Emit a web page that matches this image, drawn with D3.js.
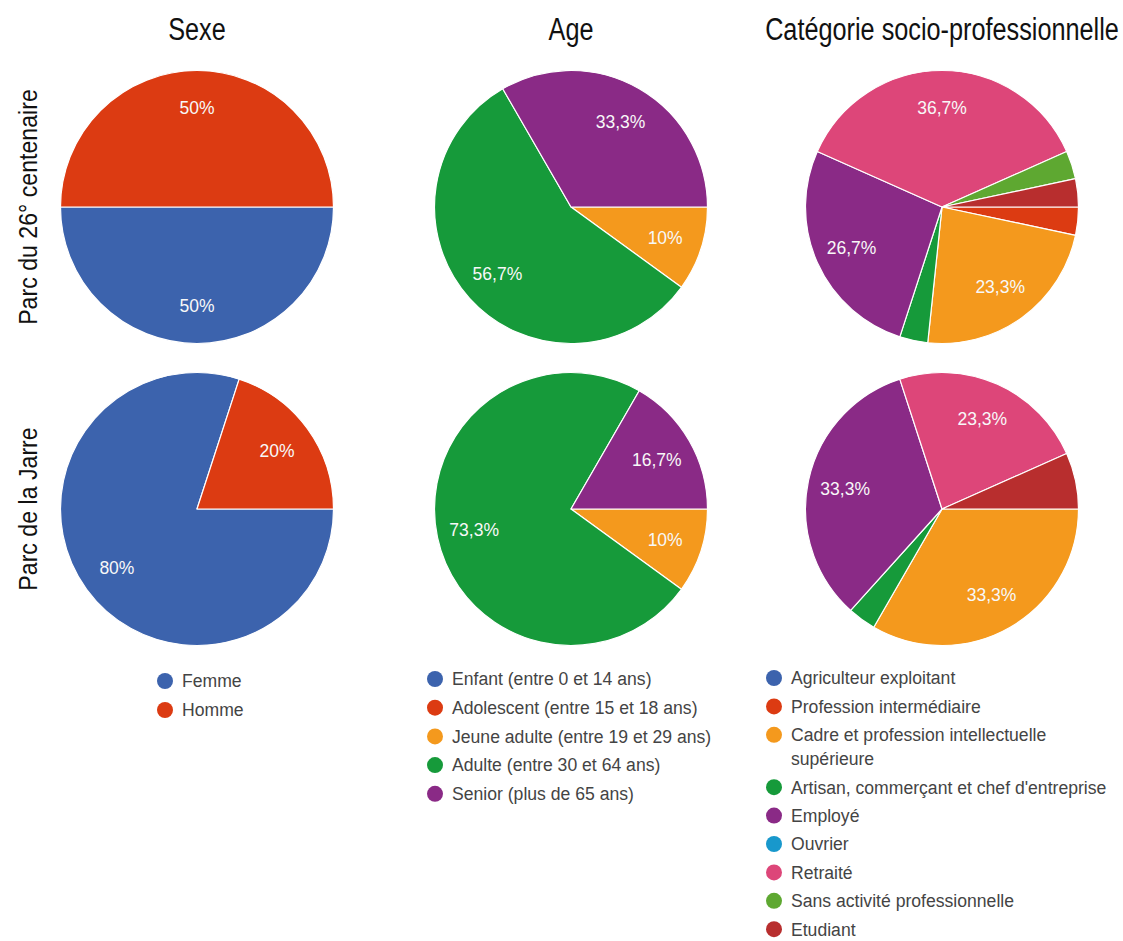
<!DOCTYPE html>
<html>
<head>
<meta charset="utf-8">
<script src="https://cdn.jsdelivr.net/npm/d3@7"></script>
<style>
  html, body { margin: 0; padding: 0; background: #fff; }
  svg { display: block; }
</style>
</head>
<body>
<svg id="chart" width="1123" height="941"></svg>
<script>
// ---- Data ----
const columnTitles = ["Sexe", "Age", "Catégorie socio-professionnelle"];
const rowTitles = ["Parc du 26° centenaire", "Parc de la Jarre"];

const sexeCategories = ["Femme", "Homme"];
const sexe26 = [15, 15];
const sexeJarre = [24, 6];

const ageCategories = [
  "Enfant (entre 0 et 14 ans)",
  "Adolescent (entre 15 et 18 ans)",
  "Jeune adulte (entre 19 et 29 ans)",
  "Adulte (entre 30 et 64 ans)",
  "Senior (plus de 65 ans)"
];
const age26 = [0, 0, 3, 17, 10];
const ageJarre = [0, 0, 3, 22, 5];

const cspCategories = [
  "Agriculteur exploitant",
  "Profession intermédiaire",
  "Cadre et profession intellectuelle supérieure",
  "Artisan, commerçant et chef d'entreprise",
  "Employé",
  "Ouvrier",
  "Retraité",
  "Sans activité professionnelle",
  "Etudiant"
];
const csp26 = [0, 1, 7, 1, 8, 0, 11, 1, 1];
const cspJarre = [0, 0, 10, 1, 10, 0, 7, 0, 2];

const palette = ["#3c63ad", "#dc3b12", "#f4991d", "#169a3a", "#8a2a86",
                 "#1898cc", "#dd4679", "#5ea831", "#b82e2e"];

// ---- Layout ----
const svg = d3.select("#chart");
const colX = [197, 571, 942];
const rowY = [207, 509];
const radius = 136.5;
const labelR = 99;

const bodyFont = "'Liberation Sans', Arial, sans-serif";

// Column titles (condensed look via horizontal scaling)
columnTitles.forEach((t, i) => {
  svg.append("text")
    .attr("transform", `translate(${colX[i]},40) scale(0.815,1)`)
    .attr("text-anchor", "middle")
    .attr("font-family", bodyFont)
    .attr("font-size", 31)
    .attr("fill", "#111")
    .text(t);
});

rowTitles.forEach((t, i) => {
  svg.append("text")
    .attr("transform", `translate(37,${rowY[i]}) rotate(-90) scale(0.89,1)`)
    .attr("text-anchor", "middle")
    .attr("font-family", bodyFont)
    .attr("font-size", 26)
    .attr("fill", "#111")
    .text(t);
});

const charts = [
  { values: sexe26, cats: sexeCategories, col: 0, row: 0 },
  { values: sexeJarre, cats: sexeCategories, col: 0, row: 1 },
  { values: age26, cats: ageCategories, col: 1, row: 0 },
  { values: ageJarre, cats: ageCategories, col: 1, row: 1 },
  { values: csp26, cats: cspCategories, col: 2, row: 0 },
  { values: cspJarre, cats: cspCategories, col: 2, row: 1 }
];

function fmtPct(v) {
  const r = Math.round(v * 10) / 10;
  let s = (r % 1 === 0) ? r.toFixed(0) : r.toFixed(1);
  return s.replace(".", ",") + "%";
}

const pie = d3.pie().sort(null).value(d => d.value)
  .startAngle(Math.PI / 2).endAngle(Math.PI / 2 + 2 * Math.PI);
const arc = d3.arc().innerRadius(0).outerRadius(radius);
const labelArc = d3.arc().innerRadius(labelR).outerRadius(labelR);

charts.forEach(c => {
  const total = d3.sum(c.values);
  const data = c.values.map((v, i) => ({ value: v, idx: i, cat: c.cats[i] }));
  const arcs = pie(data).filter(a => a.data.value > 0);
  const g = svg.append("g")
    .attr("transform", `translate(${colX[c.col]},${rowY[c.row]})`);
  g.selectAll("path").data(arcs).join("path")
    .attr("d", arc)
    .attr("fill", d => palette[d.data.idx])
    .attr("stroke", "#fff")
    .attr("stroke-width", 1.2)
    .attr("stroke-linejoin", "round");
  g.selectAll("text").data(arcs.filter(a => a.data.value / total >= 0.08)).join("text")
    .attr("transform", d => `translate(${labelArc.centroid(d)})`)
    .attr("text-anchor", "middle")
    .attr("dy", "0.36em")
    .attr("font-family", bodyFont)
    .attr("font-size", 17.5)
    .attr("fill", "#f8f8f8")
    .text(d => fmtPct(d.data.value / total * 100));
});

// ---- Legends ----
function legend(cats, cx, y0, step, wrapMap) {
  const g = svg.append("g");
  let y = y0;
  cats.forEach((cat, i) => {
    g.append("circle")
      .attr("cx", cx).attr("cy", y)
      .attr("r", 8)
      .attr("fill", palette[i]);
    const lines = wrapMap && wrapMap[cat] ? wrapMap[cat] : [cat];
    lines.forEach((ln, j) => {
      g.append("text")
        .attr("x", cx + 17).attr("y", y + j * 24)
        .attr("dy", "0.36em")
        .attr("font-family", bodyFont)
        .attr("font-size", 17.6)
        .attr("fill", "#444")
        .text(ln);
    });
    y += step + (lines.length - 1) * 24;
  });
}

legend(sexeCategories, 165, 681, 29);
legend(ageCategories, 435, 679, 28.7);
legend(cspCategories, 774, 678, 28.4, {
  "Cadre et profession intellectuelle supérieure":
    ["Cadre et profession intellectuelle", "supérieure"]
});
</script>
</body>
</html>
